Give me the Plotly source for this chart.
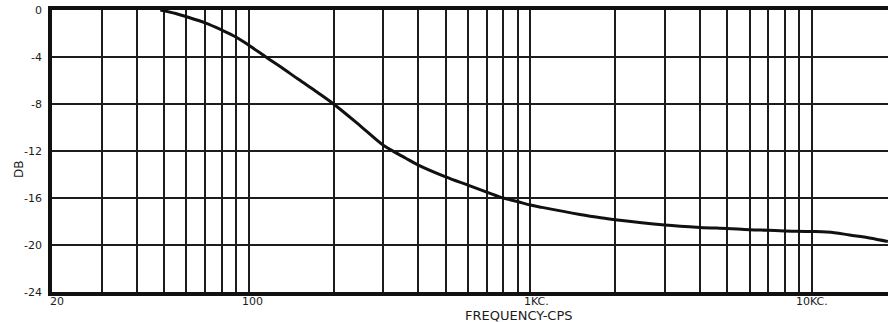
import numpy as np
import plotly.graph_objects as go

# Frequency response curve (cycles per second, dB)
freq_cps = [48.5, 55, 60, 70, 80, 90, 100, 115, 130, 150, 175, 200, 250, 300,
            322, 360, 400, 500, 600, 700, 800, 900, 1000, 1100, 1500, 1800, 2000,
            3000, 4000, 5000, 6000, 7000, 8000, 10000, 12000, 13600, 16000, 18600]
response_db = [0.0, -0.3, -0.57, -1.1, -1.7, -2.3, -3.0, -4.0, -4.85, -5.9, -7.0,
               -8.0, -9.9, -11.5, -11.95, -12.6, -13.2, -14.2, -14.9, -15.5, -16.0,
               -16.3, -16.6, -16.8, -17.4, -17.7, -17.85, -18.3, -18.5, -18.6, -18.7,
               -18.75, -18.8, -18.85, -18.95, -19.15, -19.4, -19.7]

# Log-paper grid positions and the labelled decades
grid_freqs = [30, 40, 50, 60, 70, 80, 90, 100,
              200, 300, 400, 500, 600, 700, 800, 900, 1000,
              2000, 3000, 4000, 5000, 6000, 7000, 8000, 9000, 10000]
x_tick_vals = [20, 100, 1000, 10000]
x_tick_text = ["20", "100", "1KC.", "10KC."]
x_tick_shift = [5, 4, 6, 0]
y_tick_vals = [0, -4, -8, -12, -16, -20, -24]

ink = "#1c1c1c"
font_family = "DejaVu Sans, Liberation Sans, sans-serif"

fig = go.Figure()
fig.add_trace(go.Scatter(
    x=freq_cps, y=response_db, mode="lines",
    line=dict(color="#111111", width=3, shape="spline", smoothing=1.0),
    hoverinfo="skip", showlegend=False,
))

tick_labels = [
    dict(text=t, xref="x", yref="paper", x=np.log10(v), y=-0.032,
         xanchor="center", yanchor="middle", xshift=s, showarrow=False,
         font=dict(size=11, color=ink, family=font_family))
    for v, t, s in zip(x_tick_vals, x_tick_text, x_tick_shift)
]

fig.update_layout(
    width=888, height=322,
    margin=dict(l=52, r=0, t=10, b=30),
    paper_bgcolor="white", plot_bgcolor="white",
    font=dict(family=font_family, color=ink),
    xaxis=dict(
        type="log",
        range=[np.log10(20), np.log10(18620)],
        tickmode="array",
        tickvals=grid_freqs,
        showticklabels=False, ticks="",
        showgrid=True, gridcolor=ink, gridwidth=1.6,
        showline=True, linecolor="#111111", linewidth=3.5, mirror=True,
        zeroline=False, fixedrange=True,
    ),
    yaxis=dict(
        range=[-24, 0],
        tickmode="array", tickvals=y_tick_vals,
        ticktext=[str(v) for v in y_tick_vals],
        ticks="", ticklabelstandoff=4,
        tickfont=dict(size=11, color=ink),
        showgrid=True, gridcolor=ink, gridwidth=1.6,
        showline=True, linecolor="#111111", linewidth=3.5, mirror=False,
        zeroline=False, fixedrange=True,
    ),
    annotations=tick_labels + [
        dict(text="FREQUENCY-CPS", xref="paper", yref="paper",
             x=0.5586, y=-0.0816, xanchor="center", yanchor="middle",
             showarrow=False, font=dict(size=13, color=ink, family=font_family)),
        dict(text="DB", xref="paper", yref="paper",
             x=-0.0395, y=0.436, xanchor="center", yanchor="middle",
             textangle=-90, showarrow=False,
             font=dict(size=12, color=ink, family=font_family)),
    ],
)

fig.write_html("out.html")
